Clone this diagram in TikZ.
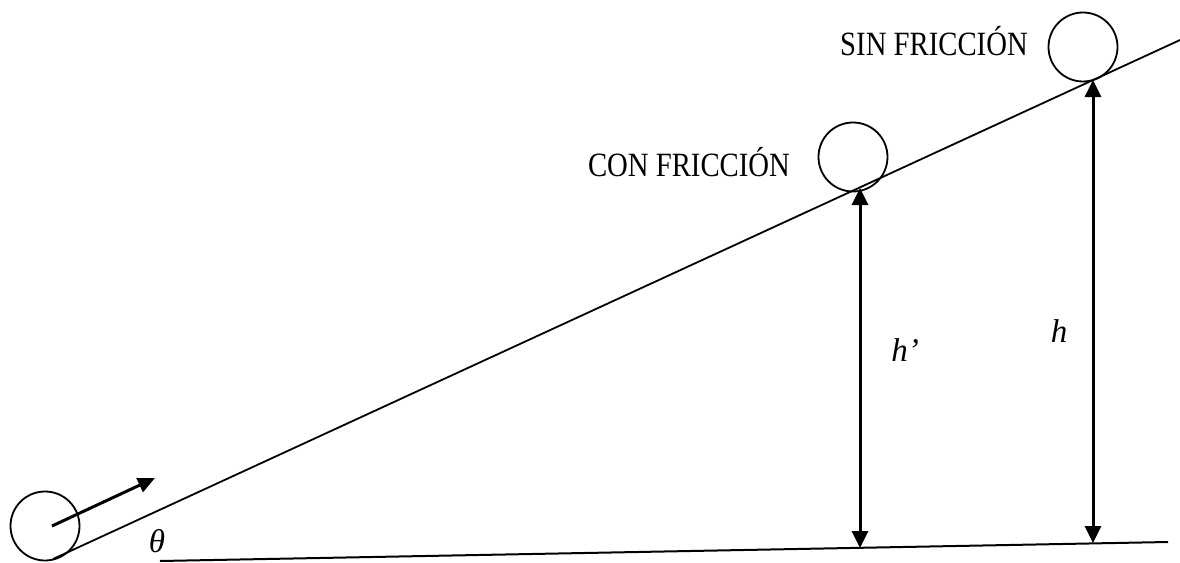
\documentclass[tikz,border=0pt]{standalone}
\usepackage{fontspec}
\newfontfamily\labelfont[FakeStretch=0.845]{Liberation Serif}
\newfontfamily\italfont{Liberation Serif}
\usetikzlibrary{arrows.meta}
\usetikzlibrary{positioning}
\tikzset{
    ball/.style={
        circle,
        draw=black,
        line width=1.8pt,
        minimum size=69pt,
        inner sep=0pt
    },
    arrow/.style={
        -{Triangle[length=17pt,width=15pt]},
        line width=3pt,
        draw=black
    },
    twoarrow/.style={
        {Triangle[length=17pt,width=16pt]}-{Triangle[length=17pt,width=16pt]},
        line width=3pt,
        draw=black
    },
    label/.style={
        font=\labelfont\fontsize{34}{40}\selectfont
    },
    mathlabel/.style={
        font=\italfont\itshape\fontsize{33}{40}\selectfont
    }
}

\begin{document}
\begin{tikzpicture}[x=1pt, y=-1pt]
        \useasboundingbox (0,0) rectangle (1180,562);

        % Incline and ground
        \coordinate (rampbot) at (53,559);
        \coordinate (ramptop) at (1180,40);
        \coordinate (groundL) at (160,561);
        \coordinate (groundR) at (1168,542);
        \draw [line width=1.8pt] (rampbot) -- (ramptop);
        \draw [line width=2pt] (groundL) -- (groundR);

        % Balls
        \node (ballstart) [ball] at (45,526) {};
        \node (ballcon) [ball] at (853,157) {};
        \node (ballsin) [ball] at (1083,47) {};

        % Labels
        \node (context) [label] at (689,162) {CON FRICCIÓN};
        \node (sintext) [label] at (934,41) {SIN FRICCIÓN};
        \node (theta) [mathlabel] at (157,541) {θ};

        % Start arrow
        \coordinate (pushstart) at (52,526);
        \coordinate (pushend) at (155,478);
        \draw [arrow] (pushstart) -- (pushend);

        % Heights
        \coordinate (contop) at (860,188);
        \coordinate (conbot) at (860,548);
        \coordinate (sintop) at (1093,80);
        \coordinate (sinbot) at (1093,543);
        \draw [twoarrow] (contop) -- (conbot);
        \draw [twoarrow] (sintop) -- (sinbot);
        \node (hprime) [mathlabel] at (905,350) {h’};
        \node (htext) [mathlabel] at (1059,331) {h};

    \end{tikzpicture}
\end{document}
